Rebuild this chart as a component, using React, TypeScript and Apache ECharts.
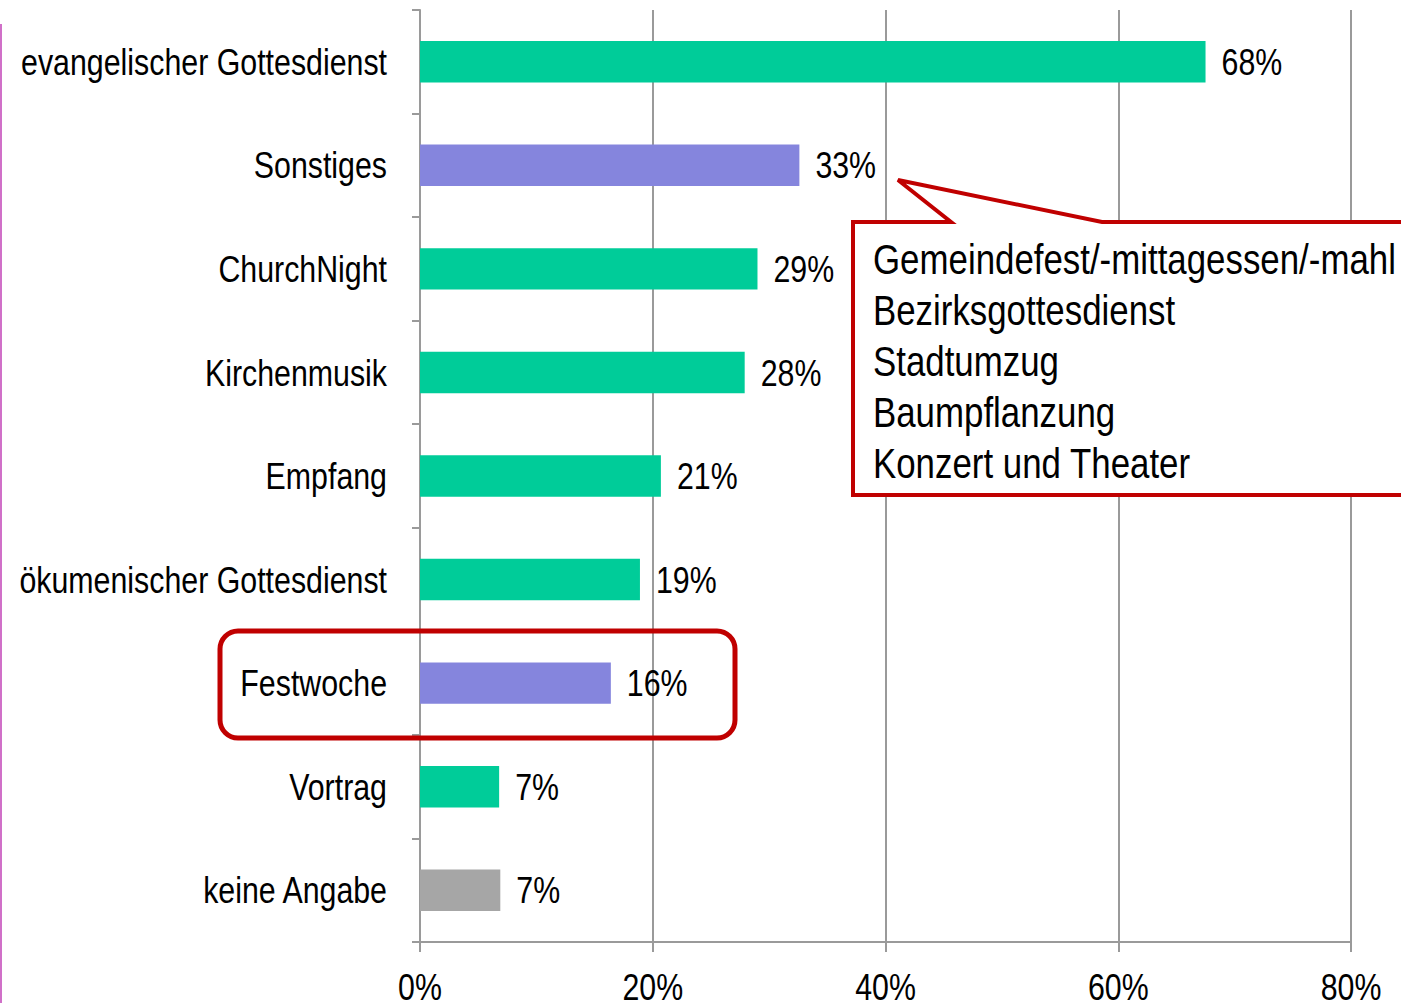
import React, { useEffect, useRef } from "react";
import * as echarts from "echarts";

const categories = [
  "evangelischer Gottesdienst",
  "Sonstiges",
  "ChurchNight",
  "Kirchenmusik",
  "Empfang",
  "ökumenischer Gottesdienst",
  "Festwoche",
  "Vortrag",
  "keine Angabe",
];
const values = [67.5, 32.6, 29.0, 27.9, 20.7, 18.9, 16.4, 6.8, 6.9];
const barColors = [
  "#00CC99",
  "#8585DD",
  "#00CC99",
  "#00CC99",
  "#00CC99",
  "#00CC99",
  "#8585DD",
  "#00CC99",
  "#A6A6A6",
];
const xTicks = [0, 20, 40, 60, 80];
const calloutLines = [
  "Gemeindefest/-mittagessen/-mahl",
  "Bezirksgottesdienst",
  "Stadtumzug",
  "Baumpflanzung",
  "Konzert und Theater",
];

const FONT = "'Liberation Sans', Arial, sans-serif";
const FS = 37;
const SX = 0.82;
const RED = "#C00000";
const GRID = "#9A9A9A";

function narrowText(text: string, x: number, y: number, align: string, fs: number = FS) {
  return {
    type: "text",
    x,
    y,
    scaleX: SX,
    scaleY: 1,
    style: {
      text,
      x: 0,
      y: 0,
      fontFamily: FONT,
      fontSize: fs,
      fill: "#000",
      textAlign: align,
      textVerticalAlign: "middle",
      verticalAlign: "middle",
    },
    z: 101,
  };
}

export default function App() {
  const ref = useRef<HTMLDivElement>(null);
  useEffect(() => {
    if (!ref.current) return;
    const chart = echarts.init(ref.current, null, { renderer: "svg" });
    chart.setOption({
      animation: false,
      backgroundColor: "#ffffff",
      grid: {
        left: 420,
        right: 50,
        top: 10,
        bottom: 61,
        containLabel: false,
        outerBoundsMode: "none",
      },
      xAxis: {
        type: "value",
        min: xTicks[0],
        max: xTicks[xTicks.length - 1],
        interval: 20,
        axisLine: { show: true, lineStyle: { color: GRID, width: 2 } },
        axisTick: { show: true, length: 10, lineStyle: { color: GRID, width: 2 } },
        splitLine: { show: true, lineStyle: { color: GRID, width: 2 } },
        axisLabel: { show: false },
      },
      yAxis: {
        type: "category",
        data: categories,
        inverse: true,
        axisLine: { show: true, lineStyle: { color: GRID, width: 2 } },
        axisTick: {
          show: true,
          length: 8,
          alignWithLabel: false,
          lineStyle: { color: GRID, width: 2 },
        },
        axisLabel: { show: false },
      },
      series: [
        {
          type: "bar",
          data: values.map((v, i) => ({ value: v, itemStyle: { color: barColors[i] } })),
          barWidth: "40%",
          label: { show: false },
        },
      ],
    });

    const texts: any[] = [];
    const [axisX] = chart.convertToPixel({ seriesIndex: 0 }, [0, 0]) as number[];
    const centers: number[] = [];
    categories.forEach((c, i) => {
      const [, py] = chart.convertToPixel({ seriesIndex: 0 }, [0, i]) as number[];
      centers.push(py);
      texts.push(narrowText(c, axisX - 33, py, "right"));
      const [vx] = chart.convertToPixel({ seriesIndex: 0 }, [values[i], i]) as number[];
      texts.push(narrowText(Math.round(values[i]) + "%", vx + 16, py, "left"));
    });
    const band = centers[1] - centers[0];
    const bottomY = centers[centers.length - 1] + band / 2;
    xTicks.forEach((t) => {
      const [tx] = chart.convertToPixel({ seriesIndex: 0 }, [t, 0]) as number[];
      texts.push(narrowText(t + "%", tx, bottomY + 45, "center"));
    });

    chart.setOption({
      graphic: [
        {
          type: "line",
          shape: { x1: 1, y1: 24, x2: 1, y2: 1003 },
          style: { stroke: "#D070C8", lineWidth: 2 },
          z: 100,
        },
        ...texts,
        {
          type: "polygon",
          shape: {
            points: [
              [853, 222],
              [951, 222],
              [898, 180],
              [1102, 222],
              [1410, 222],
              [1410, 495],
              [853, 495],
            ],
          },
          style: { fill: "#ffffff", stroke: RED, lineWidth: 4, lineJoin: "miter" },
          z: 102,
        },
        ...calloutLines.map((t, i) => ({ ...narrowText(t, 873, 259 + i * 51, "left", 42.5), z: 103 })),
        {
          type: "rect",
          shape: { x: 220, y: 631, width: 515, height: 107, r: 18 },
          style: { fill: "none", stroke: RED, lineWidth: 5 },
          z: 104,
        },
      ],
    });
    return () => chart.dispose();
  }, []);
  return (
    <div
      ref={ref}
      style={{ position: "absolute", left: 0, top: 0, width: 1401, height: 1003 }}
    />
  );
}
